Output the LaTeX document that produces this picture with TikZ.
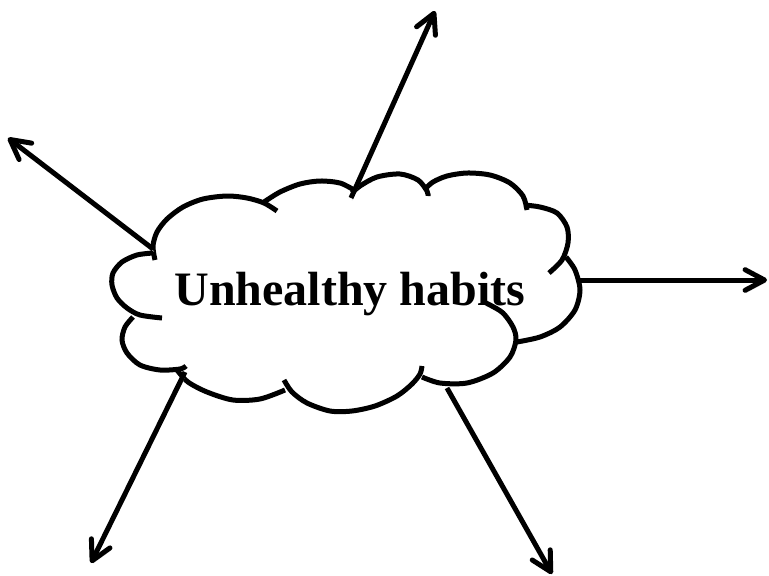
\documentclass[tikz,border=0pt]{standalone}
\usepackage{fontspec}
\setmainfont{Liberation Serif}
\usepackage{tikz}
\usetikzlibrary{arrows.meta}

\begin{document}
\begin{tikzpicture}[x=1pt, y=-1pt, >={Straight Barb[angle=56:22pt,round]},
  cloudline/.style={line width=5pt},
  spoke/.style={->, line width=5pt,
    preaction={draw=black!15, transform canvas={shift={(1pt,-2.5pt)}}}}]
  \useasboundingbox (0,0) rectangle (769,576);

  % Cloud (one lobe at a time, with its hook)
  \draw[cloudline] plot[smooth] coordinates {(155,260) (153,246) (157,232) (167,219) (183,207) (203,199) (227,196) (247,198) (264,203) (277,211)};
  \draw[cloudline] plot[smooth] coordinates {(264,202) (280,192) (300,184) (320,181) (340,183) (354,190)};
  \draw[cloudline] plot[smooth] coordinates {(352,193) (360,186) (377,177) (400,174) (418,180) (427,191) (428,196)};
  \draw[cloudline] plot[smooth] coordinates {(425,189) (433,182) (447,176) (467,173) (490,175) (510,183) (523,196) (527,210)};
  \draw[cloudline] plot[smooth] coordinates {(524,205) (540,207) (557,213) (567,227) (568,243) (562,260) (549,273)};
  \draw[cloudline] plot[smooth] coordinates {(566,257) (575,270) (580,290) (575,310) (560,327) (540,337) (517,342)};
  \draw[cloudline] plot[smooth] coordinates {(484,302) (490,305) (503,313) (513,327) (516,340) (510,357) (493,373) (467,383) (440,383) (422,377)};
  \draw[cloudline] plot[smooth] coordinates {(422,366) (420,374) (412,384) (397,396) (375,406) (352,411) (330,411) (307,403) (292,392) (284,380)};
  \draw[cloudline] plot[smooth] coordinates {(285,390) (260,399) (233,400) (207,392) (188,382) (177,370)};
  \draw[cloudline] plot[smooth] coordinates {(133,317) (125,327) (122,340) (127,353) (140,365) (160,370) (180,369) (186,366)};
  \draw[cloudline] plot[smooth] coordinates {(153,253) (137,255) (122,262) (113,273) (112,285) (117,298) (127,308) (140,315) (162,318)};

  % Label
  \node[font=\fontsize{48}{58}\selectfont\bfseries, anchor=base] (habits) at (350,305) {Unhealthy habits};

  % Spokes
  \coordinate (up-in) at (351,198);        \coordinate (up-out) at (435,11);
  \coordinate (left-in) at (153,249);      \coordinate (left-out) at (8,138);
  \coordinate (right-in) at (580,280);     \coordinate (right-out) at (767,280);
  \coordinate (downleft-in) at (185,372);  \coordinate (downleft-out) at (91,563);
  \coordinate (downright-in) at (447,388); \coordinate (downright-out) at (552,574);
  \foreach \s in {up,left,right,downleft,downright}
    \draw[spoke] (\s-in) -- (\s-out);
\end{tikzpicture}
\end{document}
